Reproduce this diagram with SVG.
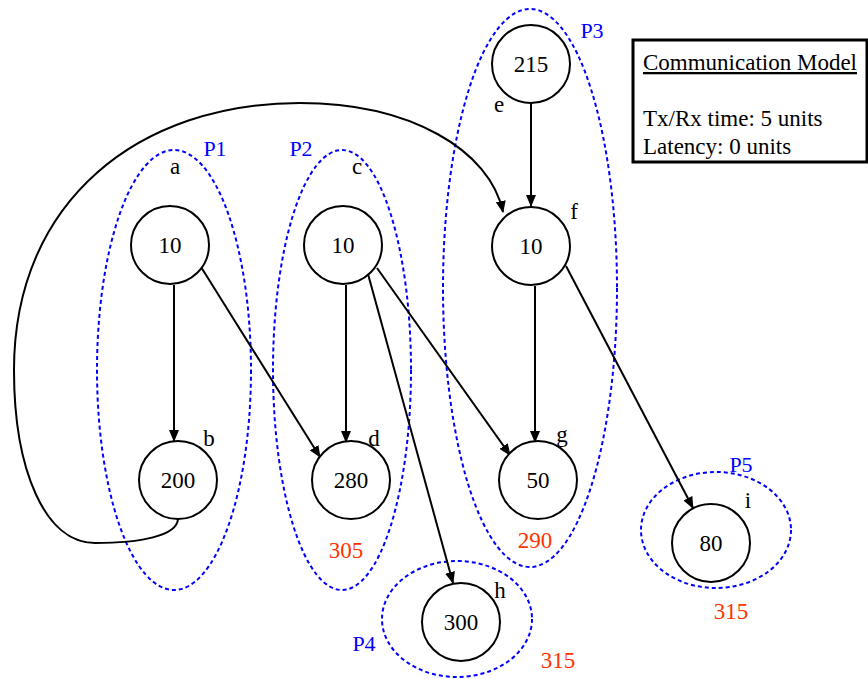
<svg xmlns="http://www.w3.org/2000/svg" width="868" height="679" viewBox="0 0 868 679" font-family="Liberation Serif, Times New Roman, DejaVu Serif, serif">
  <style>
    text { font-family: 'Liberation Serif', 'Times New Roman', 'DejaVu Serif', serif; font-size: 23px; }
    .node circle { fill: #fff; stroke: #000; stroke-width: 2; }
    .val { text-anchor: middle; dominant-baseline: central; fill: #000; }
    .lbl { text-anchor: middle; fill: #000; }
    .part { fill: none; stroke: #0000ff; stroke-width: 2; stroke-dasharray: 4 3; }
    .plbl { text-anchor: middle; fill: #0000ff; font-size: 22px; }
    .cost { text-anchor: middle; fill: #ff3300; }
    .edge { fill: none; stroke: #000; stroke-width: 2; marker-end: url(#arrow); }
    .legend { fill: #000; }
  </style>
  <defs>
    <marker id="arrow" markerUnits="userSpaceOnUse" markerWidth="12" markerHeight="10" refX="11" refY="5" orient="auto">
      <path d="M0,0 L12,5 L0,10 z" fill="#000"/>
    </marker>
  </defs>
  <rect width="868" height="679" fill="#fff"/>

  <!-- processor partitions -->
  <g id="partitions">
    <ellipse class="part" cx="174" cy="370" rx="77" ry="220"/>
    <ellipse class="part" cx="342" cy="370" rx="69" ry="220"/>
    <ellipse class="part" cx="530" cy="288" rx="87" ry="279"/>
    <ellipse class="part" cx="457" cy="619" rx="75" ry="58"/>
    <ellipse class="part" cx="716" cy="530" rx="75" ry="58"/>
    <text class="plbl" x="215" y="156">P1</text>
    <text class="plbl" x="301" y="156">P2</text>
    <text class="plbl" x="592" y="38">P3</text>
    <text class="plbl" x="364" y="651">P4</text>
    <text class="plbl" x="741" y="472">P5</text>
    <text class="cost" x="346" y="558">305</text>
    <text class="cost" x="535" y="548">290</text>
    <text class="cost" x="558" y="668">315</text>
    <text class="cost" x="731" y="619">315</text>
  </g>

  <!-- connectors -->
  <g id="edges">
    <line class="edge" x1="174" y1="285" x2="174" y2="441"/>
    <line class="edge" x1="201" y1="267" x2="320" y2="457"/>
    <line class="edge" x1="346" y1="285" x2="346" y2="442"/>
    <line class="edge" x1="368" y1="274" x2="453" y2="583"/>
    <line class="edge" x1="377" y1="268" x2="510" y2="455"/>
    <line class="edge" x1="531" y1="104" x2="531" y2="206"/>
    <line class="edge" x1="535" y1="286" x2="535" y2="442"/>
    <line class="edge" x1="566" y1="266" x2="693" y2="508"/>
    <path class="edge" d="M178,519 C177,536 140,543 95,543 C45,543 14,470 14,370 C14,200 140,103 300,103 C410,103 490,150 503,212"/>
  </g>

  <!-- task nodes -->
  <g id="node-a" class="node"><circle cx="170" cy="245" r="39"/><text class="val" x="170" y="245">10</text><text class="lbl" x="175" y="174">a</text></g>
  <g id="node-b" class="node"><circle cx="178" cy="480" r="39"/><text class="val" x="178" y="480">200</text><text class="lbl" x="209" y="446">b</text></g>
  <g id="node-c" class="node"><circle cx="343" cy="245" r="39"/><text class="val" x="343" y="245">10</text><text class="lbl" x="357" y="174">c</text></g>
  <g id="node-d" class="node"><circle cx="351" cy="480" r="39"/><text class="val" x="351" y="480">280</text><text class="lbl" x="374" y="446">d</text></g>
  <g id="node-e" class="node"><circle cx="531" cy="64" r="39"/><text class="val" x="531" y="64">215</text><text class="lbl" x="499" y="112">e</text></g>
  <g id="node-f" class="node"><circle cx="531" cy="246" r="39"/><text class="val" x="531" y="246">10</text><text class="lbl" x="574" y="219">f</text></g>
  <g id="node-g" class="node"><circle cx="538" cy="480" r="39"/><text class="val" x="538" y="480">50</text><text class="lbl" x="562" y="442">g</text></g>
  <g id="node-h" class="node"><circle cx="461" cy="622" r="39"/><text class="val" x="461" y="622">300</text><text class="lbl" x="500" y="598">h</text></g>
  <g id="node-i" class="node"><circle cx="711" cy="543" r="39"/><text class="val" x="711" y="543">80</text><text class="lbl" x="748" y="508">i</text></g>

  <!-- legend -->
  <g id="legend">
    <rect x="633" y="40" width="234" height="122" fill="#fff" stroke="#000" stroke-width="3"/>
    <text class="legend" x="643" y="70" text-decoration="underline">Communication Model</text>
    <text class="legend" x="643" y="126">Tx/Rx time: 5 units</text>
    <text class="legend" x="643" y="154">Latency: 0 units</text>
  </g>
</svg>
